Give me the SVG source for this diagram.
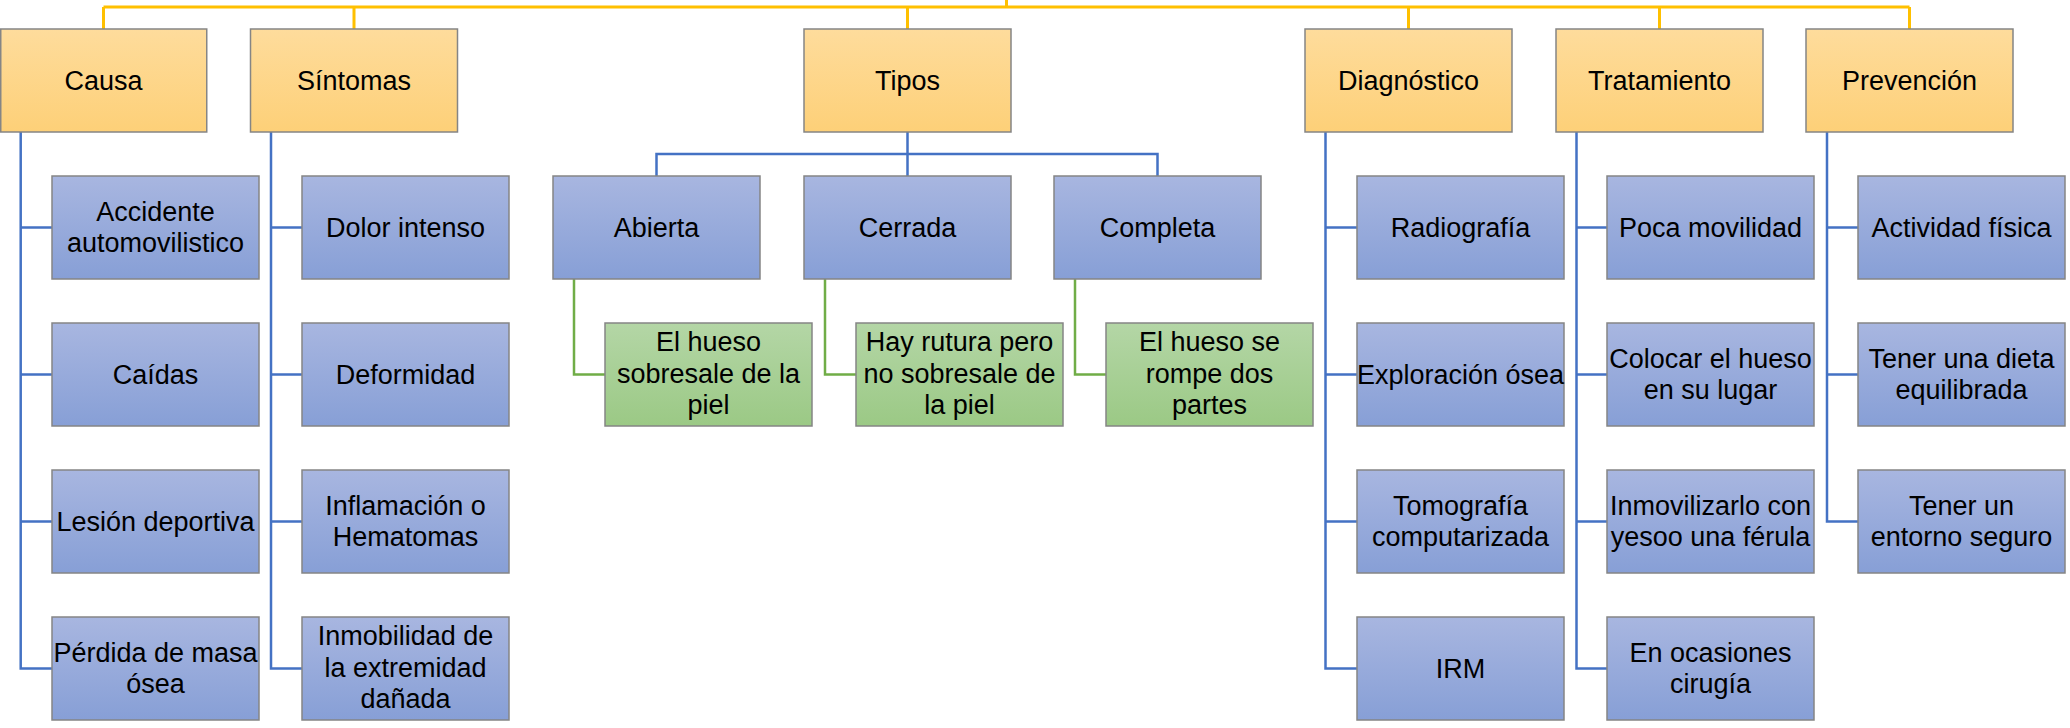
<svg xmlns="http://www.w3.org/2000/svg" width="2070" height="728" viewBox="0 0 2070 728">
<defs>
<linearGradient id="gy" x1="0" y1="0" x2="0" y2="1"><stop offset="0" stop-color="#FEDC9C"/><stop offset="1" stop-color="#FDD078"/></linearGradient>
<linearGradient id="gb" x1="0" y1="0" x2="0" y2="1"><stop offset="0" stop-color="#A8B6E0"/><stop offset="1" stop-color="#879FD6"/></linearGradient>
<linearGradient id="gg" x1="0" y1="0" x2="0" y2="1"><stop offset="0" stop-color="#B4D6A6"/><stop offset="1" stop-color="#9BC985"/></linearGradient>
</defs>
<style>
rect{stroke:#858585;stroke-width:1.5}
.y{fill:url(#gy)}
.b{fill:url(#gb)}
.g{fill:url(#gg)}
text{font-family:"Liberation Sans",Arial,sans-serif;font-size:27px;fill:#000;text-anchor:middle}
.cy{stroke:#FFC000;stroke-width:3;fill:none}
.cb{stroke:#4472C4;stroke-width:2.5;fill:none}
.cg{stroke:#70AD47;stroke-width:2.5;fill:none}
</style>
<g id="connectors">
<path class="cy" d="M103.5 7H1909.5M1006.5 0V7M103.5 7V29M354 7V29M907.5 7V29M1408.5 7V29M1659.5 7V29M1909.5 7V29"/>
<path class="cb" d="M20.7 132V668.5H52M20.7 227.5H52M20.7 374.5H52M20.7 521.5H52"/>
<path class="cb" d="M271 132V668.5H302M271 227.5H302M271 374.5H302M271 521.5H302"/>
<path class="cb" d="M1325.5 132V668.5H1357M1325.5 227.5H1357M1325.5 374.5H1357M1325.5 521.5H1357"/>
<path class="cb" d="M1576.5 132V668.5H1607M1576.5 227.5H1607M1576.5 374.5H1607M1576.5 521.5H1607"/>
<path class="cb" d="M1827 132V521.5H1858M1827 227.5H1858M1827 374.5H1858"/>
<path class="cb" d="M907.5 132V176M656.5 176V154H1157.5V176"/>
<path class="cg" d="M574 279V374.5H605M825 279V374.5H856M1075 279V374.5H1106"/>
</g>
<g id="causa"><rect class="y" x="0.75" y="29" width="206" height="103"/><text x="103.5" y="89.5">Causa</text></g>
<g id="sintomas"><rect class="y" x="250.5" y="29" width="207" height="103"/><text x="354" y="89.5">Síntomas</text></g>
<g id="tipos"><rect class="y" x="804" y="29" width="207" height="103"/><text x="907.5" y="89.5">Tipos</text></g>
<g id="diagnostico"><rect class="y" x="1305" y="29" width="207" height="103"/><text x="1408.5" y="89.5">Diagnóstico</text></g>
<g id="tratamiento"><rect class="y" x="1556" y="29" width="207" height="103"/><text x="1659.5" y="89.5">Tratamiento</text></g>
<g id="prevencion"><rect class="y" x="1806" y="29" width="207" height="103"/><text x="1909.5" y="89.5">Prevención</text></g>

<g id="accidente"><rect class="b" x="52" y="176" width="207" height="103"/><text x="155.5" y="220.5">Accidente</text><text x="155.5" y="252">automovilistico</text></g>
<g id="caidas"><rect class="b" x="52" y="323" width="207" height="103"/><text x="155.5" y="384">Caídas</text></g>
<g id="lesion"><rect class="b" x="52" y="470" width="207" height="103"/><text x="155.5" y="531">Lesión deportiva</text></g>
<g id="perdida"><rect class="b" x="52" y="617" width="207" height="103"/><text x="155.5" y="661.5">Pérdida de masa</text><text x="155.5" y="693">ósea</text></g>

<g id="dolor"><rect class="b" x="302" y="176" width="207" height="103"/><text x="405.5" y="237">Dolor intenso</text></g>
<g id="deformidad"><rect class="b" x="302" y="323" width="207" height="103"/><text x="405.5" y="384">Deformidad</text></g>
<g id="inflamacion"><rect class="b" x="302" y="470" width="207" height="103"/><text x="405.5" y="514.5">Inflamación o</text><text x="405.5" y="546">Hematomas</text></g>
<g id="inmobilidad"><rect class="b" x="302" y="617" width="207" height="103"/><text x="405.5" y="645">Inmobilidad de</text><text x="405.5" y="676.5">la extremidad</text><text x="405.5" y="708">dañada</text></g>

<g id="abierta"><rect class="b" x="553" y="176" width="207" height="103"/><text x="656.5" y="237">Abierta</text></g>
<g id="cerrada"><rect class="b" x="804" y="176" width="207" height="103"/><text x="907.5" y="237">Cerrada</text></g>
<g id="completa"><rect class="b" x="1054" y="176" width="207" height="103"/><text x="1157.5" y="237">Completa</text></g>

<g id="hueso-sobresale"><rect class="g" x="605" y="323" width="207" height="103"/><text x="708.5" y="351">El hueso</text><text x="708.5" y="382.5">sobresale de la</text><text x="708.5" y="414">piel</text></g>
<g id="hay-rutura"><rect class="g" x="856" y="323" width="207" height="103"/><text x="959.5" y="351">Hay rutura pero</text><text x="959.5" y="382.5">no sobresale de</text><text x="959.5" y="414">la piel</text></g>
<g id="hueso-rompe"><rect class="g" x="1106" y="323" width="207" height="103"/><text x="1209.5" y="351">El hueso se</text><text x="1209.5" y="382.5">rompe dos</text><text x="1209.5" y="414">partes</text></g>

<g id="radiografia"><rect class="b" x="1357" y="176" width="207" height="103"/><text x="1460.5" y="237">Radiografía</text></g>
<g id="exploracion"><rect class="b" x="1357" y="323" width="207" height="103"/><text x="1460.5" y="384">Exploración ósea</text></g>
<g id="tomografia"><rect class="b" x="1357" y="470" width="207" height="103"/><text x="1460.5" y="514.5">Tomografía</text><text x="1460.5" y="546">computarizada</text></g>
<g id="irm"><rect class="b" x="1357" y="617" width="207" height="103"/><text x="1460.5" y="678">IRM</text></g>

<g id="poca"><rect class="b" x="1607" y="176" width="207" height="103"/><text x="1710.5" y="237">Poca movilidad</text></g>
<g id="colocar"><rect class="b" x="1607" y="323" width="207" height="103"/><text x="1710.5" y="367.5">Colocar el hueso</text><text x="1710.5" y="399">en su lugar</text></g>
<g id="inmovilizarlo"><rect class="b" x="1607" y="470" width="207" height="103"/><text x="1710.5" y="514.5">Inmovilizarlo con</text><text x="1710.5" y="546">yesoo una férula</text></g>
<g id="ocasiones"><rect class="b" x="1607" y="617" width="207" height="103"/><text x="1710.5" y="661.5">En ocasiones</text><text x="1710.5" y="693">cirugía</text></g>

<g id="actividad"><rect class="b" x="1858" y="176" width="207" height="103"/><text x="1961.5" y="237">Actividad física</text></g>
<g id="dieta"><rect class="b" x="1858" y="323" width="207" height="103"/><text x="1961.5" y="367.5">Tener una dieta</text><text x="1961.5" y="399">equilibrada</text></g>
<g id="entorno"><rect class="b" x="1858" y="470" width="207" height="103"/><text x="1961.5" y="514.5">Tener un</text><text x="1961.5" y="546">entorno seguro</text></g>
</svg>
